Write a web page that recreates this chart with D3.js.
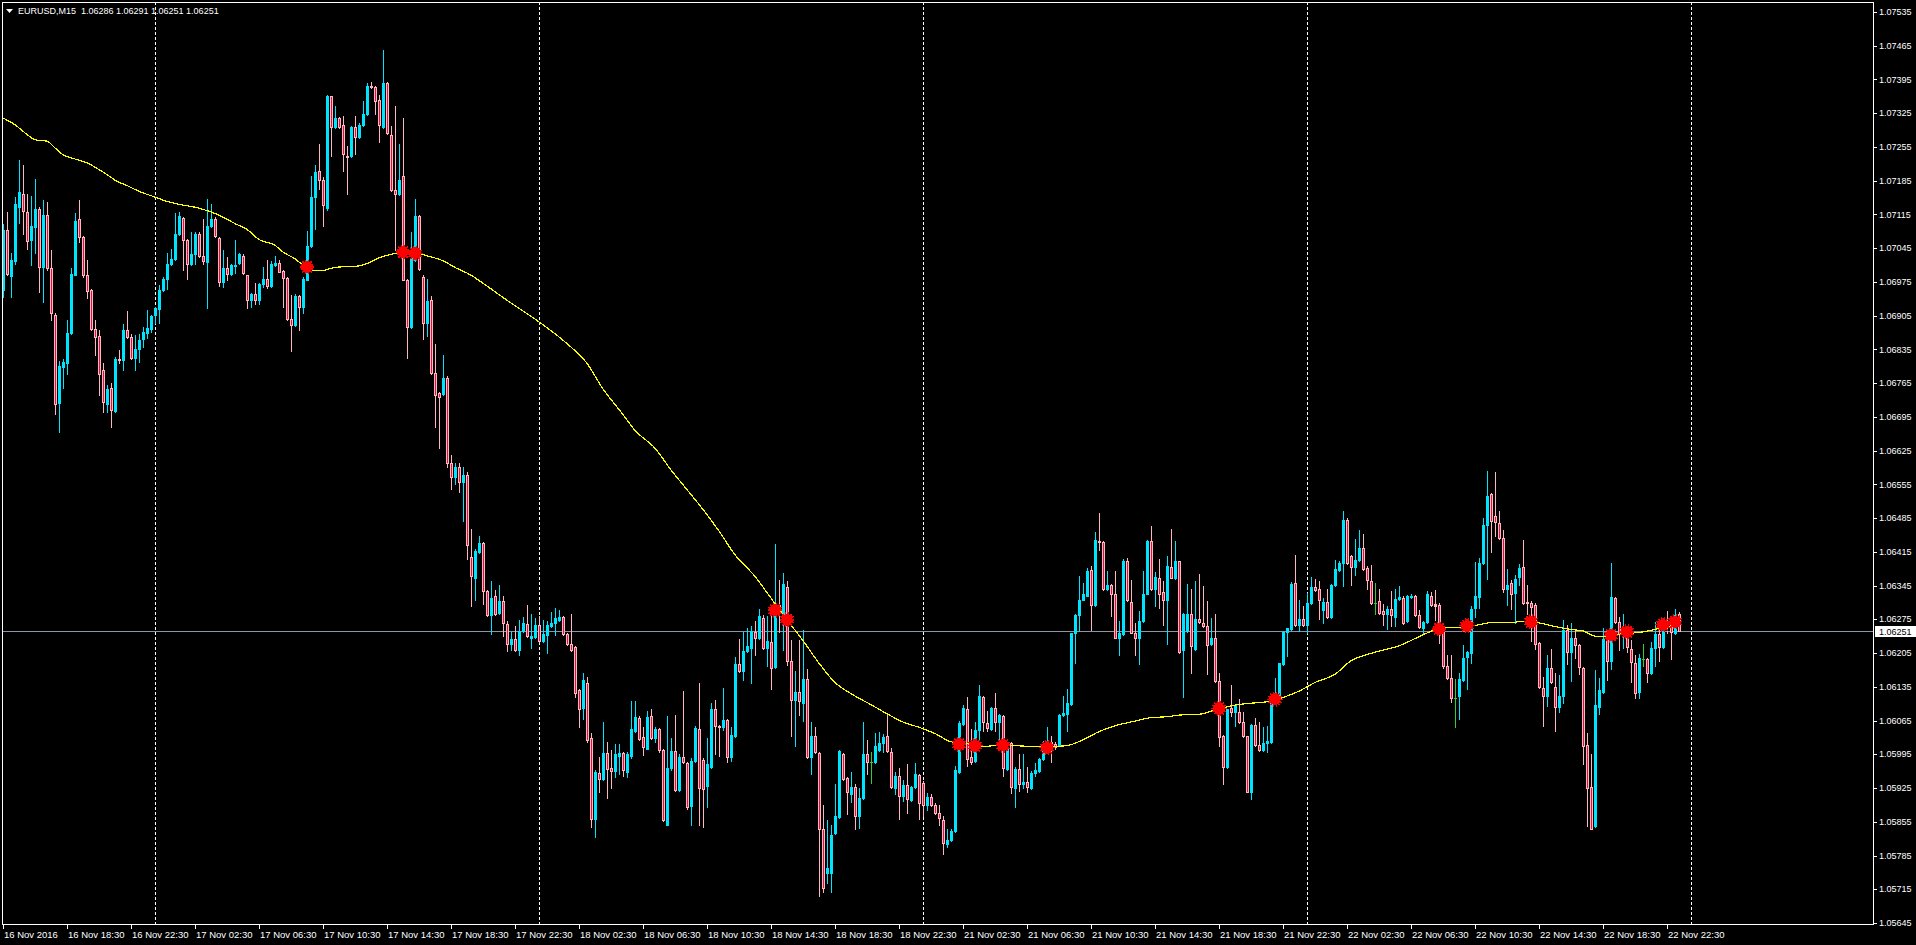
<!DOCTYPE html>
<html>
<head>
<meta charset="utf-8">
<script src="https://cdn.jsdelivr.net/npm/d3@7"></script>
<style>
  html, body { margin: 0; padding: 0; background: #000; overflow: hidden; }
  svg { display: block; }
  text { font-family: "Liberation Sans", Arial, sans-serif; font-size: 9px; fill: #fff; }
</style>
</head>
<body>
<div id="chart"></div>
<script>
// EURUSD M15, 16 Nov 2016 14:30 -> 22 Nov 2016 23:15 (420 bars)
const symbol = 'EURUSD,M15'
const sessions = [
  {start: Date.UTC(2016, 10, 16, 14, 30), bars: 230},
  {start: Date.UTC(2016, 10, 21, 0, 0), bars: 190}
]

const open = [
  1.06959,1.07083,1.06987,1.07019,1.07130,1.07158,1.07121,1.07063,1.07089,1.07127,
  1.07006,1.07114,1.07003,1.06907,1.06723,1.06799,1.06806,1.06869,1.06990,1.07105,
  1.07068,1.06989,1.06958,1.06878,1.06863,1.06792,1.06722,1.06754,1.06708,1.06816,
  1.06812,1.06875,1.06861,1.06818,1.06836,1.06856,1.06869,1.06878,1.06906,1.06918,
  1.06958,1.06982,1.07013,1.07022,1.07074,1.07108,1.07063,1.07013,1.07032,1.07074,
  1.07028,1.07016,1.07091,1.07106,1.07067,1.06975,1.07004,1.06992,1.07009,1.07014,
  1.07029,1.06989,1.06937,1.06950,1.06938,1.06970,1.06981,1.06966,1.07010,1.07015,
  1.06997,1.06984,1.06899,1.06885,1.06946,1.06923,1.06980,1.07049,1.07151,1.07205,
  1.07186,1.07128,1.07360,1.07296,1.07315,1.07301,1.07237,1.07236,1.07297,1.07275,
  1.07301,1.07324,1.07382,1.07379,1.07353,1.07296,1.07388,1.07279,1.07166,1.07158,
  1.07194,1.06980,1.06882,1.07020,1.07112,1.06985,1.06889,1.06937,1.06787,1.06745,
  1.06742,1.06775,1.06600,1.06570,1.06590,1.06560,1.06575,1.06405,1.06360,1.06415,
  1.06433,1.06333,1.06283,1.06323,1.06288,1.06313,1.06265,1.06224,1.06235,1.06211,
  1.06251,1.06265,1.06237,1.06239,1.06264,1.06231,1.06243,1.06261,1.06267,1.06274,
  1.06280,1.06245,1.06224,1.06218,1.06128,1.06091,1.06143,1.06028,1.05860,1.05957,
  1.05944,1.05997,1.05967,1.05960,1.05991,1.05998,1.05958,1.05991,1.06044,1.06071,
  1.06030,1.06007,1.06075,1.06028,1.06047,1.06003,1.05849,1.05967,1.06001,1.05920,
  1.05989,1.05977,1.05887,1.05981,1.06047,1.05983,1.05930,1.05969,1.06089,1.06054,
  1.06052,1.06067,1.05989,1.06032,1.06182,1.06167,1.06210,1.06215,1.06249,1.06237,
  1.06278,1.06216,1.06229,1.06177,1.06305,1.06286,1.06342,1.06189,1.06108,1.06124,
  1.06102,1.06151,1.05989,1.06032,1.05998,1.05841,1.05748,1.05748,1.05831,1.05864,
  1.05995,1.05946,1.05913,1.05928,1.05866,1.05905,1.05995,1.05979,1.05979,1.06003,
  1.06018,1.06032,1.06000,1.05926,1.05950,1.05909,1.05931,1.05901,1.05928,1.05952,
  1.05936,1.05889,1.05907,1.05889,1.05874,1.05858,1.05809,1.05817,1.05835,1.05958,
  1.06057,1.06089,1.05990,1.05982,1.06046,1.06113,1.06060,1.06047,1.06091,1.06061,
  1.06075,1.05964,1.06018,1.05926,1.05964,1.05933,1.05938,1.05926,1.05956,1.05961,
  1.05985,1.05999,1.06020,1.06016,1.06014,1.06076,1.06078,1.06099,1.06246,1.06285,
  1.06316,1.06324,1.06378,1.06304,1.06438,1.06436,1.06337,1.06347,1.06327,1.06237,
  1.06244,1.06397,1.06311,1.06247,1.06237,1.06271,1.06328,1.06437,1.06337,1.06361,
  1.06331,1.06316,1.06384,1.06361,1.06396,1.06211,1.06251,1.06287,1.06213,1.06275,
  1.06267,1.06261,1.06223,1.06237,1.06147,1.06033,1.05968,1.06092,1.06082,1.06082,
  1.06061,1.06032,1.05916,1.06055,1.06014,1.06004,1.06018,1.06020,1.06102,1.06119,
  1.06182,1.06249,1.06255,1.06351,1.06264,1.06276,1.06264,1.06309,1.06342,1.06337,
  1.06294,1.06311,1.06280,1.06346,1.06377,1.06392,1.06482,1.06407,1.06384,1.06398,
  1.06423,1.06382,1.06354,1.06309,1.06314,1.06292,1.06287,1.06296,1.06280,1.06318,
  1.06320,1.06271,1.06321,1.06324,1.06285,1.06258,1.06270,1.06324,1.06306,1.06304,
  1.06253,1.06178,1.06154,1.06111,1.06115,1.06149,1.06197,1.06206,1.06299,1.06322,
  1.06392,1.06471,1.06535,1.06490,1.06475,1.06444,1.06338,1.06351,1.06330,1.06363,
  1.06384,1.06311,1.06308,1.06304,1.06225,1.06133,1.06115,1.06175,1.06135,1.06094,
  1.06116,1.06252,1.06207,1.06237,1.06222,1.06175,1.06014,1.05928,1.05847,1.06094,
  1.06124,1.06235,1.06189,1.06320,1.06269,1.06244,1.06249,1.06214,1.06185,1.06124,
  1.06193,1.06193,1.06164,1.06216,1.06244,1.06218,1.06267,1.06262,1.06247,1.06286
]
const high = [
  1.07096,1.07120,1.07036,1.07151,1.07227,1.07217,1.07158,1.07154,1.07188,1.07130,
  1.07144,1.07141,1.07041,1.06910,1.06811,1.06816,1.06896,1.07003,1.07118,1.07144,
  1.07070,1.07021,1.06960,1.06896,1.06875,1.06806,1.06761,1.06765,1.06820,1.06834,
  1.06887,1.06914,1.06866,1.06865,1.06868,1.06882,1.06916,1.06906,1.06923,1.06968,
  1.06985,1.07034,1.07044,1.07117,1.07121,1.07110,1.07065,1.07079,1.07079,1.07079,
  1.07106,1.07148,1.07136,1.07110,1.07069,1.07041,1.07027,1.07013,1.07063,1.07034,
  1.07032,1.06990,1.06951,1.06973,1.06973,1.07005,1.07020,1.07019,1.07029,1.07020,
  1.06999,1.06986,1.06947,1.06949,1.06947,1.06985,1.07081,1.07194,1.07217,1.07262,
  1.07193,1.07363,1.07361,1.07339,1.07318,1.07320,1.07258,1.07299,1.07320,1.07304,
  1.07350,1.07388,1.07389,1.07382,1.07362,1.07457,1.07389,1.07299,1.07339,1.07262,
  1.07315,1.06982,1.07079,1.07148,1.07113,1.06989,1.06982,1.06946,1.06847,1.06747,
  1.06823,1.06780,1.06615,1.06600,1.06600,1.06590,1.06580,1.06462,1.06421,1.06448,
  1.06435,1.06335,1.06354,1.06335,1.06346,1.06323,1.06272,1.06249,1.06261,1.06274,
  1.06279,1.06304,1.06286,1.06278,1.06282,1.06274,1.06272,1.06290,1.06298,1.06294,
  1.06282,1.06247,1.06286,1.06220,1.06130,1.06163,1.06155,1.06040,1.05962,1.05989,
  1.06061,1.06020,1.06004,1.06016,1.06016,1.06000,1.05999,1.06106,1.06106,1.06075,
  1.06052,1.06085,1.06089,1.06052,1.06049,1.06007,1.06075,1.06028,1.06077,1.05995,
  1.06126,1.05979,1.05987,1.06053,1.06143,1.05987,1.06028,1.06102,1.06108,1.06056,
  1.06133,1.06069,1.06051,1.06196,1.06234,1.06249,1.06257,1.06261,1.06272,1.06297,
  1.06283,1.06282,1.06282,1.06431,1.06357,1.06372,1.06354,1.06233,1.06167,1.06233,
  1.06253,1.06171,1.06062,1.06052,1.06000,1.05890,1.05858,1.05848,1.05934,1.06003,
  1.05997,1.05948,1.05958,1.05934,1.05926,1.06061,1.06024,1.05999,1.06040,1.06042,
  1.06037,1.06079,1.06008,1.05958,1.05967,1.05942,1.05975,1.05930,1.05977,1.05954,
  1.05940,1.05915,1.05913,1.05893,1.05890,1.05868,1.05841,1.05839,1.05970,1.06064,
  1.06097,1.06113,1.06047,1.06061,1.06139,1.06115,1.06085,1.06094,1.06123,1.06078,
  1.06077,1.06013,1.06020,1.05968,1.05995,1.05995,1.05968,1.05961,1.05977,1.05988,
  1.06023,1.06052,1.06033,1.06020,1.06078,1.06115,1.06131,1.06247,1.06287,1.06365,
  1.06351,1.06382,1.06385,1.06456,1.06496,1.06437,1.06375,1.06349,1.06376,1.06271,
  1.06400,1.06402,1.06356,1.06268,1.06292,1.06376,1.06440,1.06469,1.06373,1.06401,
  1.06354,1.06406,1.06462,1.06437,1.06397,1.06289,1.06349,1.06338,1.06354,1.06369,
  1.06344,1.06313,1.06278,1.06287,1.06164,1.06034,1.06090,1.06138,1.06099,1.06109,
  1.06082,1.06033,1.06057,1.06071,1.06061,1.06051,1.06054,1.06106,1.06154,1.06185,
  1.06251,1.06258,1.06352,1.06409,1.06316,1.06302,1.06330,1.06363,1.06359,1.06354,
  1.06320,1.06337,1.06348,1.06399,1.06396,1.06500,1.06485,1.06409,1.06442,1.06461,
  1.06453,1.06385,1.06387,1.06351,1.06338,1.06306,1.06302,1.06333,1.06338,1.06344,
  1.06323,1.06326,1.06327,1.06326,1.06295,1.06271,1.06333,1.06332,1.06335,1.06308,
  1.06262,1.06200,1.06202,1.06151,1.06164,1.06221,1.06209,1.06302,1.06393,1.06402,
  1.06485,1.06583,1.06537,1.06580,1.06499,1.06460,1.06380,1.06356,1.06366,1.06389,
  1.06440,1.06347,1.06313,1.06308,1.06227,1.06156,1.06200,1.06214,1.06163,1.06159,
  1.06273,1.06264,1.06267,1.06254,1.06224,1.06177,1.06039,1.05995,1.06170,1.06154,
  1.06258,1.06247,1.06391,1.06322,1.06280,1.06287,1.06258,1.06233,1.06202,1.06204,
  1.06223,1.06195,1.06228,1.06269,1.06262,1.06273,1.06292,1.06282,1.06297,1.06291
]
const low = [
  1.06944,1.06989,1.06944,1.07013,1.07097,1.07075,1.07044,1.07010,1.07034,1.06954,
  1.06934,1.06999,1.06896,1.06702,1.06663,1.06754,1.06785,1.06868,1.06989,1.07058,
  1.06985,1.06941,1.06876,1.06823,1.06740,1.06706,1.06706,1.06675,1.06706,1.06806,
  1.06792,1.06858,1.06816,1.06792,1.06808,1.06840,1.06858,1.06872,1.06889,1.06890,
  1.06956,1.06961,1.07011,1.07020,1.07072,1.06999,1.06982,1.07011,1.07013,1.07026,
  1.07013,1.06921,1.07089,1.07068,1.06966,1.06965,1.06980,1.06989,1.06994,1.07013,
  1.06992,1.06921,1.06923,1.06929,1.06930,1.06965,1.06963,1.06965,1.07008,1.06995,
  1.06923,1.06896,1.06832,1.06883,1.06875,1.06910,1.06978,1.07047,1.07084,1.07168,
  1.07091,1.07125,1.07236,1.07294,1.07295,1.07206,1.07158,1.07234,1.07241,1.07273,
  1.07299,1.07322,1.07377,1.07324,1.07265,1.07294,1.07282,1.07164,1.07041,1.07156,
  1.06978,1.06818,1.06880,1.07018,1.06999,1.06856,1.06862,1.06785,1.06673,1.06630,
  1.06740,1.06590,1.06545,1.06555,1.06540,1.06480,1.06400,1.06302,1.06315,1.06413,
  1.06306,1.06281,1.06245,1.06284,1.06286,1.06241,1.06210,1.06212,1.06210,1.06202,
  1.06249,1.06239,1.06215,1.06237,1.06229,1.06229,1.06206,1.06259,1.06242,1.06272,
  1.06243,1.06222,1.06210,1.06114,1.06052,1.06069,1.06020,1.05844,1.05823,1.05917,
  1.05942,1.05905,1.05926,1.05948,1.05954,1.05950,1.05948,1.05987,1.06042,1.06024,
  1.05994,1.06005,1.06026,1.06020,1.05999,1.05857,1.05848,1.05963,1.05919,1.05918,
  1.05977,1.05882,1.05848,1.05979,1.05848,1.05844,1.05885,1.05967,1.05995,1.05991,
  1.06045,1.05979,1.05981,1.06030,1.06165,1.06149,1.06208,1.06143,1.06200,1.06235,
  1.06214,1.06179,1.06130,1.06175,1.06249,1.06212,1.06180,1.06032,1.06012,1.06077,
  1.06065,1.05987,1.05954,1.05997,1.05700,1.05709,1.05729,1.05709,1.05829,1.05862,
  1.05942,1.05872,1.05895,1.05841,1.05843,1.05903,1.05954,1.05936,1.05977,1.06001,
  1.05999,1.05999,1.05926,1.05912,1.05860,1.05899,1.05874,1.05899,1.05926,1.05860,
  1.05868,1.05880,1.05887,1.05872,1.05848,1.05789,1.05803,1.05815,1.05833,1.05956,
  1.06055,1.05971,1.05974,1.05980,1.06026,1.06044,1.06044,1.06045,1.06044,1.06020,
  1.05951,1.05962,1.05915,1.05885,1.05919,1.05926,1.05917,1.05923,1.05950,1.05959,
  1.05983,1.05997,1.05978,1.06006,1.06013,1.06075,1.06044,1.06097,1.06185,1.06251,
  1.06315,1.06323,1.06253,1.06302,1.06418,1.06336,1.06336,1.06282,1.06236,1.06200,
  1.06242,1.06313,1.06246,1.06200,1.06183,1.06269,1.06327,1.06336,1.06302,1.06299,
  1.06264,1.06223,1.06360,1.06359,1.06206,1.06113,1.06249,1.06164,1.06211,1.06267,
  1.06260,1.06161,1.06221,1.06146,1.06013,1.05934,1.05966,1.06075,1.06054,1.06060,
  1.06030,1.05916,1.05902,1.06013,1.06002,1.06002,1.05999,1.06018,1.06100,1.06117,
  1.06180,1.06199,1.06253,1.06262,1.06251,1.06262,1.06246,1.06307,1.06334,1.06275,
  1.06267,1.06278,1.06278,1.06344,1.06375,1.06344,1.06389,1.06347,1.06368,1.06396,
  1.06378,1.06337,1.06307,1.06287,1.06287,1.06264,1.06254,1.06262,1.06261,1.06316,
  1.06266,1.06269,1.06320,1.06282,1.06257,1.06246,1.06268,1.06302,1.06273,1.06225,
  1.06173,1.06152,1.06104,1.06051,1.06069,1.06147,1.06130,1.06184,1.06280,1.06299,
  1.06390,1.06359,1.06414,1.06447,1.06441,1.06331,1.06304,1.06297,1.06267,1.06346,
  1.06307,1.06287,1.06230,1.06213,1.06133,1.06054,1.06095,1.06142,1.06044,1.06083,
  1.06102,1.06182,1.06147,1.06194,1.06161,1.05975,1.05847,1.05840,1.05845,1.06078,
  1.06122,1.06149,1.06171,1.06267,1.06211,1.06216,1.06207,1.06144,1.06111,1.06112,
  1.06178,1.06145,1.06162,1.06178,1.06189,1.06216,1.06246,1.06193,1.06245,1.06251
]
const close = [
  1.07083,1.06992,1.07020,1.07136,1.07162,1.07123,1.07060,1.07090,1.07127,1.07006,
  1.07114,1.07003,1.06910,1.06721,1.06800,1.06808,1.06870,1.06992,1.07101,1.07068,
  1.06989,1.06956,1.06878,1.06860,1.06785,1.06725,1.06753,1.06709,1.06816,1.06812,
  1.06875,1.06861,1.06818,1.06836,1.06854,1.06871,1.06879,1.06905,1.06921,1.06959,
  1.06982,1.07013,1.07023,1.07075,1.07111,1.07063,1.07013,1.07032,1.07075,1.07028,
  1.07018,1.07092,1.07106,1.07070,1.06975,1.07004,1.06992,1.07010,1.07010,1.07032,
  1.06994,1.06937,1.06950,1.06938,1.06970,1.06981,1.06967,1.07012,1.07015,1.06996,
  1.06984,1.06898,1.06885,1.06946,1.06923,1.06982,1.07050,1.07151,1.07204,1.07186,
  1.07134,1.07361,1.07296,1.07315,1.07297,1.07241,1.07234,1.07297,1.07275,1.07301,
  1.07324,1.07382,1.07379,1.07351,1.07301,1.07388,1.07284,1.07166,1.07158,1.07186,
  1.06980,1.06881,1.07025,1.07111,1.07001,1.06889,1.06935,1.06787,1.06740,1.06737,
  1.06775,1.06600,1.06570,1.06590,1.06560,1.06575,1.06430,1.06364,1.06417,1.06433,
  1.06333,1.06283,1.06319,1.06286,1.06313,1.06267,1.06224,1.06235,1.06212,1.06251,
  1.06267,1.06241,1.06241,1.06264,1.06231,1.06245,1.06264,1.06267,1.06277,1.06280,
  1.06245,1.06224,1.06212,1.06122,1.06089,1.06149,1.06025,1.05860,1.05958,1.05944,
  1.05998,1.05964,1.05960,1.05995,1.05997,1.05962,1.05995,1.06047,1.06073,1.06026,
  1.06010,1.06073,1.06028,1.06048,1.06003,1.05858,1.05967,1.06001,1.05921,1.05989,
  1.05979,1.05886,1.05981,1.06050,1.05926,1.05923,1.05975,1.06088,1.06054,1.06052,
  1.06067,1.05989,1.06036,1.06182,1.06167,1.06210,1.06220,1.06251,1.06237,1.06282,
  1.06216,1.06231,1.06175,1.06302,1.06292,1.06349,1.06188,1.06108,1.06125,1.06106,
  1.06151,1.05989,1.06032,1.05999,1.05840,1.05717,1.05760,1.05827,1.05866,1.06001,
  1.05944,1.05917,1.05928,1.05868,1.05905,1.05995,1.05979,1.05979,1.06012,1.06018,
  1.06030,1.06002,1.05928,1.05950,1.05909,1.05931,1.05903,1.05928,1.05954,1.05893,
  1.05889,1.05907,1.05889,1.05874,1.05862,1.05811,1.05817,1.05835,1.05962,1.06059,
  1.06091,1.05986,1.05980,1.06046,1.06115,1.06061,1.06049,1.06092,1.06061,1.06076,
  1.05966,1.06009,1.05928,1.05964,1.05933,1.05938,1.05928,1.05956,1.05962,1.05985,
  1.06002,1.06016,1.06011,1.06011,1.06076,1.06080,1.06101,1.06246,1.06285,1.06316,
  1.06327,1.06376,1.06304,1.06440,1.06436,1.06337,1.06347,1.06327,1.06237,1.06246,
  1.06396,1.06315,1.06247,1.06237,1.06271,1.06328,1.06437,1.06337,1.06362,1.06327,
  1.06316,1.06385,1.06361,1.06396,1.06207,1.06287,1.06287,1.06220,1.06275,1.06269,
  1.06261,1.06222,1.06237,1.06147,1.06031,1.05968,1.06089,1.06082,1.06097,1.06061,
  1.06032,1.05917,1.06055,1.06014,1.06004,1.06018,1.06023,1.06102,1.06123,1.06184,
  1.06249,1.06257,1.06349,1.06264,1.06276,1.06264,1.06309,1.06342,1.06336,1.06315,
  1.06311,1.06280,1.06346,1.06380,1.06392,1.06482,1.06391,1.06384,1.06399,1.06423,
  1.06380,1.06356,1.06309,1.06309,1.06289,1.06287,1.06296,1.06284,1.06318,1.06321,
  1.06268,1.06323,1.06324,1.06284,1.06259,1.06270,1.06327,1.06304,1.06302,1.06253,
  1.06178,1.06154,1.06111,1.06111,1.06151,1.06195,1.06207,1.06296,1.06323,1.06392,
  1.06471,1.06531,1.06480,1.06476,1.06444,1.06338,1.06347,1.06328,1.06358,1.06382,
  1.06309,1.06308,1.06301,1.06223,1.06135,1.06115,1.06175,1.06144,1.06094,1.06116,
  1.06252,1.06207,1.06237,1.06222,1.06177,1.06013,1.05926,1.05841,1.06097,1.06128,
  1.06235,1.06189,1.06322,1.06269,1.06244,1.06249,1.06218,1.06186,1.06123,1.06195,
  1.06193,1.06164,1.06216,1.06244,1.06218,1.06267,1.06261,1.06249,1.06285,1.06251
]

// moving average (bar index, value)
const maBars = [0,3,6,8,11,13,15,18,21,24,27,28,31,34,38,41,44,48,51,53,56,58,61,64,68,70,73,75,78,80,82,84,88,91,94,98,100,103,107,110,113,117,119,
  126,134,141,146,150,155,158,163,167,171,175,179,183,188,192,196,200,204,208,213,217,221,225,229,233,237,
  242,245,249,253,258,262,266,270,274,278,283,287,291,295,299,303,308,312,316,320,324,328,333,337,341,345,349,353,358,
  362,365,368,372,377,379,382,385,388,392,395,398,401,404,408,410,413,415,419]
const maValues = [1.07315,1.07301,1.07281,1.07270,1.07267,1.07253,1.07239,1.07230,1.07222,1.07208,1.07192,1.07186,1.07175,1.07163,1.07151,1.07142,1.07136,1.07130,1.07123,1.07117,1.07105,1.07096,1.07084,1.07063,1.07051,1.07037,1.07023,1.07010,1.06999,1.06999,1.07003,1.07006,1.07007,1.07013,1.07025,1.07034,1.07037,1.07035,1.07027,1.07019,1.07005,1.06989,1.06978,
  1.06937,1.06892,1.06847,1.06806,1.06753,1.06700,1.06667,1.06630,1.06585,1.06544,1.06503,1.06458,1.06409,1.06364,1.06319,1.06274,1.06231,1.06184,1.06144,1.06116,1.06098,1.06079,1.06062,1.06051,1.06038,1.06021,
  1.06016,1.06011,1.06014,1.06013,1.06011,1.06011,1.06013,1.06025,1.06042,1.06054,1.06064,1.06071,1.06073,1.06077,1.06078,1.06087,1.06097,1.06101,1.06104,1.06113,1.06126,1.06144,1.06161,1.06189,1.06202,1.06211,1.06220,1.06235,1.06253,
  1.06258,1.06258,1.06262,1.06268,1.06268,1.06270,1.06270,1.06266,1.06260,1.06254,1.06251,1.06240,1.06239,1.06244,1.06247,1.06249,1.06254,1.06258,1.06264]

// cross signals
const signalBars = [76,100,103,193,196,239,243,250,261,304,318,359,366,382,402,406,415,418]
const signalPrices = [1.07006,1.07037,1.07034,1.06294,1.06274,1.06016,1.06013,1.06014,1.06009,1.06090,1.06109,1.06255,1.06262,1.06270,1.06242,1.06249,1.06264,1.06270]

const priceTicks = ['1.05645','1.05715','1.05785','1.05855','1.05925','1.05995','1.06065','1.06135',
  '1.06205','1.06275','1.06345','1.06415','1.06485','1.06555','1.06625','1.06695','1.06765','1.06835',
  '1.06905','1.06975','1.07045','1.07115','1.07185','1.07255','1.07325','1.07395','1.07465','1.07535']
const timeLabels = ['16 Nov 2016','16 Nov 18:30','16 Nov 22:30','17 Nov 02:30','17 Nov 06:30','17 Nov 10:30',
  '17 Nov 14:30','17 Nov 18:30','17 Nov 22:30','18 Nov 02:30','18 Nov 06:30','18 Nov 10:30','18 Nov 14:30',
  '18 Nov 18:30','18 Nov 22:30','21 Nov 02:30','21 Nov 06:30','21 Nov 10:30','21 Nov 14:30','21 Nov 18:30',
  '21 Nov 22:30','22 Nov 02:30','22 Nov 06:30','22 Nov 10:30','22 Nov 14:30','22 Nov 18:30','22 Nov 22:30']
const barsPerLabel = 16

const bullColor = '#00e5ff'
const bearBorder = '#ffb6c1'
const bearFill = '#dc143c'
const dojiColor = '#32cd32'

let dimensions = {
  width: 1916,
  height: 945,
  plot: {left: 2, top: 2, right: 1873, bottom: 924}
}

const bars = open.map((o, i) => ({i, o, h: high[i], l: low[i], c: close[i]}))

// bar times, for the day separators
function barTime(i) {
  let s = sessions[0]
  let k = i
  if (i >= sessions[0].bars) { s = sessions[1]; k = i - sessions[0].bars }
  return new Date(s.start + k * 15 * 60000)
}
const separators = d3.range(0, bars.length + 8).filter(i => {
  const t = barTime(i)
  return t.getUTCHours() === 0 && t.getUTCMinutes() === 0
})

const wrapper = d3.select('#chart')
  .append('svg')
  .attr('width', dimensions.width)
  .attr('height', dimensions.height)
  .style('background', '#000')

const xScale = d3.scaleLinear()
  .domain([0, 1])
  .range([3, 7])

const yScale = d3.scaleLinear()
  .domain([+priceTicks[0], +priceTicks[priceTicks.length - 1]])
  .range([923, 12])

const px = v => Math.round(v)
const plot = dimensions.plot

// day separators
wrapper.append('g')
  .selectAll('line')
  .data(separators)
  .join('line')
  .attr('x1', d => px(xScale(d)) + 0.5)
  .attr('x2', d => px(xScale(d)) + 0.5)
  .attr('y1', plot.top)
  .attr('y2', plot.bottom)
  .attr('stroke', '#fff')
  .attr('stroke-dasharray', '3,2')

// bid line
const lastClose = close[close.length - 1]
wrapper.append('line')
  .attr('x1', plot.left)
  .attr('x2', plot.right)
  .attr('y1', px(yScale(lastClose)) + 0.5)
  .attr('y2', px(yScale(lastClose)) + 0.5)
  .attr('stroke', '#8a96a8')

// candles
const candles = wrapper.append('g')
  .attr('shape-rendering', 'crispEdges')
  .selectAll('g')
  .data(bars)
  .join('g')

const colorOf = d => d.c > d.o ? bullColor : (d.c < d.o ? bearBorder : dojiColor)

candles.append('rect')
  .attr('x', d => px(xScale(d.i)))
  .attr('y', d => px(yScale(d.h)))
  .attr('width', 1)
  .attr('height', d => Math.max(1, px(yScale(d.l)) - px(yScale(d.h)) + 1))
  .attr('fill', colorOf)

candles.append('rect')
  .attr('x', d => px(xScale(d.i)) - 1)
  .attr('y', d => px(yScale(Math.max(d.o, d.c))))
  .attr('width', 3)
  .attr('height', d => Math.max(1, px(yScale(Math.min(d.o, d.c))) - px(yScale(Math.max(d.o, d.c))) + 1))
  .attr('fill', colorOf)

candles.filter(d => d.c < d.o)
  .filter(d => px(yScale(d.c)) - px(yScale(d.o)) > 2)
  .append('rect')
  .attr('x', d => px(xScale(d.i)))
  .attr('y', d => px(yScale(d.o)) + 1)
  .attr('width', 1)
  .attr('height', d => px(yScale(d.c)) - px(yScale(d.o)) - 1)
  .attr('fill', bearFill)

// moving average
const lineGenerator = d3.line()
  .x((d, k) => xScale(maBars[k]))
  .y(d => yScale(d))
  .curve(d3.curveMonotoneX)

wrapper.append('path')
  .attr('d', lineGenerator(maValues))
  .attr('fill', 'none')
  .attr('stroke', '#ffff00')
  .attr('stroke-width', 1.2)
  .attr('shape-rendering', 'crispEdges')

// signal blobs
const star = d3.range(28).map(k => {
  const a = k * Math.PI / 14
  const r = k % 2 ? 5.5 : 8
  return [r * Math.cos(a), r * Math.sin(a)]
})
wrapper.append('g')
  .selectAll('path')
  .data(signalBars)
  .join('path')
  .attr('d', 'M' + star.join('L') + 'Z')
  .attr('transform', (d, k) => `translate(${xScale(d)},${yScale(signalPrices[k])})`)
  .attr('fill', '#ff0000')
  .attr('shape-rendering', 'crispEdges')

// frame
wrapper.append('rect')
  .attr('x', plot.left + 0.5)
  .attr('y', plot.top + 0.5)
  .attr('width', plot.right - plot.left)
  .attr('height', plot.bottom - plot.top)
  .attr('fill', 'none')
  .attr('stroke', '#fff')

// price axis
const priceAxis = wrapper.append('g')
priceAxis.selectAll('line')
  .data(priceTicks)
  .join('line')
  .attr('x1', plot.right)
  .attr('x2', plot.right + 4)
  .attr('y1', d => px(yScale(+d)) + 0.5)
  .attr('y2', d => px(yScale(+d)) + 0.5)
  .attr('stroke', '#fff')
priceAxis.selectAll('text')
  .data(priceTicks)
  .join('text')
  .attr('x', plot.right + 6)
  .attr('y', d => yScale(+d))
  .attr('dy', '0.35em')
  .text(d => d)

// last price tag
const tagY = px(yScale(lastClose))
wrapper.append('rect')
  .attr('x', plot.right + 2)
  .attr('y', tagY - 5)
  .attr('width', dimensions.width - plot.right - 2)
  .attr('height', 11)
  .attr('fill', '#fff')
wrapper.append('text')
  .attr('x', plot.right + 6)
  .attr('y', tagY + 0.5)
  .attr('dy', '0.35em')
  .style('fill', '#000')
  .text(lastClose.toFixed(5))

// time axis
const timeAxis = wrapper.append('g')
timeAxis.selectAll('line')
  .data(timeLabels)
  .join('line')
  .attr('x1', (d, k) => px(xScale(k * barsPerLabel)) + 0.5)
  .attr('x2', (d, k) => px(xScale(k * barsPerLabel)) + 0.5)
  .attr('y1', plot.bottom)
  .attr('y2', plot.bottom + 5)
  .attr('stroke', '#fff')
timeAxis.selectAll('text')
  .data(timeLabels)
  .join('text')
  .attr('x', (d, k) => px(xScale(k * barsPerLabel)) + 1)
  .attr('y', plot.bottom + 14)
  .style('font-size', '9.5px')
  .text(d => d)

// header
const last = bars[bars.length - 1]
wrapper.append('path')
  .attr('d', 'M6,9L13,9L9.5,13Z')
  .attr('fill', '#fff')
wrapper.append('text')
  .attr('x', 18)
  .attr('y', 14)
  .attr('xml:space', 'preserve')
  .style('white-space', 'pre')
  .text(`${symbol}  ${last.o.toFixed(5)} ${last.h.toFixed(5)} ${last.l.toFixed(5)} ${last.c.toFixed(5)}`)
</script>
</body>
</html>
